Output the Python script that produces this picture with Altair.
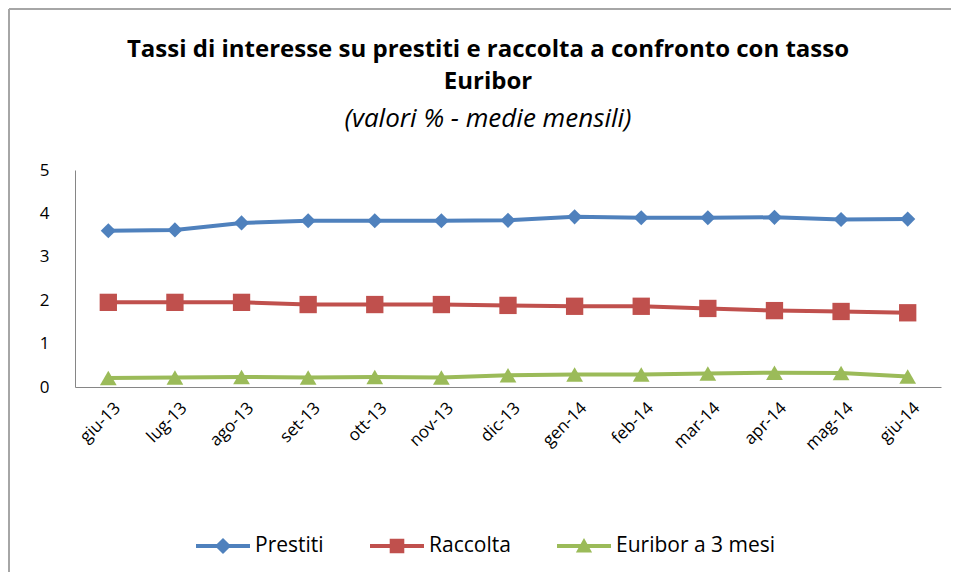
import altair as alt
import pandas as pd

mesi = ["giu-13", "lug-13", "ago-13", "set-13", "ott-13", "nov-13", "dic-13",
        "gen-14", "feb-14", "mar-14", "apr-14", "mag-14", "giu-14"]
prestiti = [3.60, 3.62, 3.78, 3.83, 3.83, 3.83, 3.84, 3.92, 3.90, 3.90, 3.91, 3.86, 3.87]
raccolta = [1.95, 1.95, 1.95, 1.90, 1.90, 1.90, 1.88, 1.86, 1.86, 1.81, 1.76, 1.74, 1.71]
euribor = [0.21, 0.22, 0.23, 0.22, 0.23, 0.22, 0.27, 0.29, 0.29, 0.31, 0.33, 0.32, 0.24]
serie = ["Prestiti", "Raccolta", "Euribor a 3 mesi"]
colori = ["#4F81BD", "#C0504D", "#9BBB59"]
forme = ["diamond", "square", "triangle-up"]
dimensioni = [230, 300, 280]
titolo = ["Tassi di interesse su prestiti e raccolta a confronto con tasso", "Euribor"]
sottotitolo = "(valori % - medie mensili)"

rows = []
for nome, vals in zip(serie, [prestiti, raccolta, euribor]):
    for m, v in zip(mesi, vals):
        rows.append({"mese": m, "serie": nome, "valore": v})
df = pd.DataFrame(rows)

FONT = "Open Sans"

# legend symbol: line + marker, as custom paths
p_line = "M-1,-0.07H1V0.07H-1Z"
p_dia = "M0,-0.3L0.3,0L0,0.3L-0.3,0Z"
p_sq = "M-0.27,-0.27H0.27V0.27H-0.27Z"
p_tri = "M0,-0.3L0.3,0.24H-0.3Z"
shape_expr = ("datum.value == 'Prestiti' ? '%s' : datum.value == 'Raccolta' ? '%s' : '%s'"
              % (p_line + p_dia, p_line + p_sq, p_line + p_tri))

x_enc = alt.X("mese:N", sort=mesi, title=None,
              axis=alt.Axis(labelAngle=-45, labelAlign="right", labelBaseline="middle",
                            labelPadding=18, labelOffset=9, ticks=False, domainColor="#868686",
                            labelFont=FONT, labelFontSize=17, labelColor="#000000"))
y_enc = alt.Y("valore:Q", title=None,
              scale=alt.Scale(domain=[0, 5], nice=False),
              axis=alt.Axis(values=[0, 1, 2, 3, 4, 5], grid=False, ticks=False,
                            domainColor="#868686", labelPadding=26, labelFont=FONT,
                            labelFontSize=17, labelColor="#000000"))
cscale = alt.Scale(domain=serie, range=colori)

base = alt.Chart(df)

# invisible layer carrying the legend (first, so its legend settings win)
legend_layer = base.mark_point(filled=True, size=0).encode(
    x=x_enc, y=y_enc,
    color=alt.Color("serie:N", sort=serie, scale=cscale,
                    legend=alt.Legend(
                        title=None, orient="none", direction="horizontal",
                        legendX=121, legendY=349, padding=0,
                        symbolSize=2916, columnPadding=46, labelOffset=5,
                        symbolType=alt.ExprRef(shape_expr),
                        symbolStrokeWidth=0, symbolOpacity=1,
                        labelFont=FONT, labelFontSize=21, labelColor="#000000")))

one = pd.DataFrame({"k": [0]})
frame_top = alt.Chart(one).mark_rule(stroke="#a6a6a6", strokeWidth=2).encode(
    x=alt.value(-66), x2=alt.value(1100), y=alt.value(-161))
frame_left = alt.Chart(one).mark_rule(stroke="#a6a6a6", strokeWidth=2).encode(
    x=alt.value(-66), y=alt.value(-161), y2=alt.value(1000))

t1 = alt.Chart(one).mark_text(font=FONT, fontSize=24, fontWeight="bold", color="#000000",
                              align="center", baseline="middle").encode(
    text=alt.value(titolo[0]), x=alt.value(413), y=alt.value(-120))
t2 = alt.Chart(one).mark_text(font=FONT, fontSize=24, fontWeight="bold", color="#000000",
                              align="center", baseline="middle").encode(
    text=alt.value(titolo[1]), x=alt.value(413), y=alt.value(-88))
t3 = alt.Chart(one).mark_text(font=FONT, fontSize=26, fontStyle="italic", color="#000000",
                              align="center", baseline="middle").encode(
    text=alt.value(sottotitolo), x=alt.value(413), y=alt.value(-51))

lines = base.mark_line(strokeWidth=4).encode(
    x=x_enc, y=y_enc,
    color=alt.Color("serie:N", sort=serie, scale=cscale, legend=None))

point_layers = []
for nome, col, forma, dim in zip(serie, colori, forme, dimensioni):
    point_layers.append(
        base.transform_filter(alt.datum.serie == nome)
        .mark_point(filled=True, opacity=1, shape=forma, size=dim, color=col)
        .encode(x=x_enc, y=y_enc))

chart = alt.layer(legend_layer, frame_top, frame_left, t1, t2, t3, lines, *point_layers).properties(
    width=866, height=217,
    autosize=alt.AutoSizeParams(type="none"),
    padding={"left": 67, "top": 162, "right": 10, "bottom": 185},
).configure(background="white").configure_view(stroke=None)

chart.save("out.html", embed_options={"renderer": "svg", "actions": False})
